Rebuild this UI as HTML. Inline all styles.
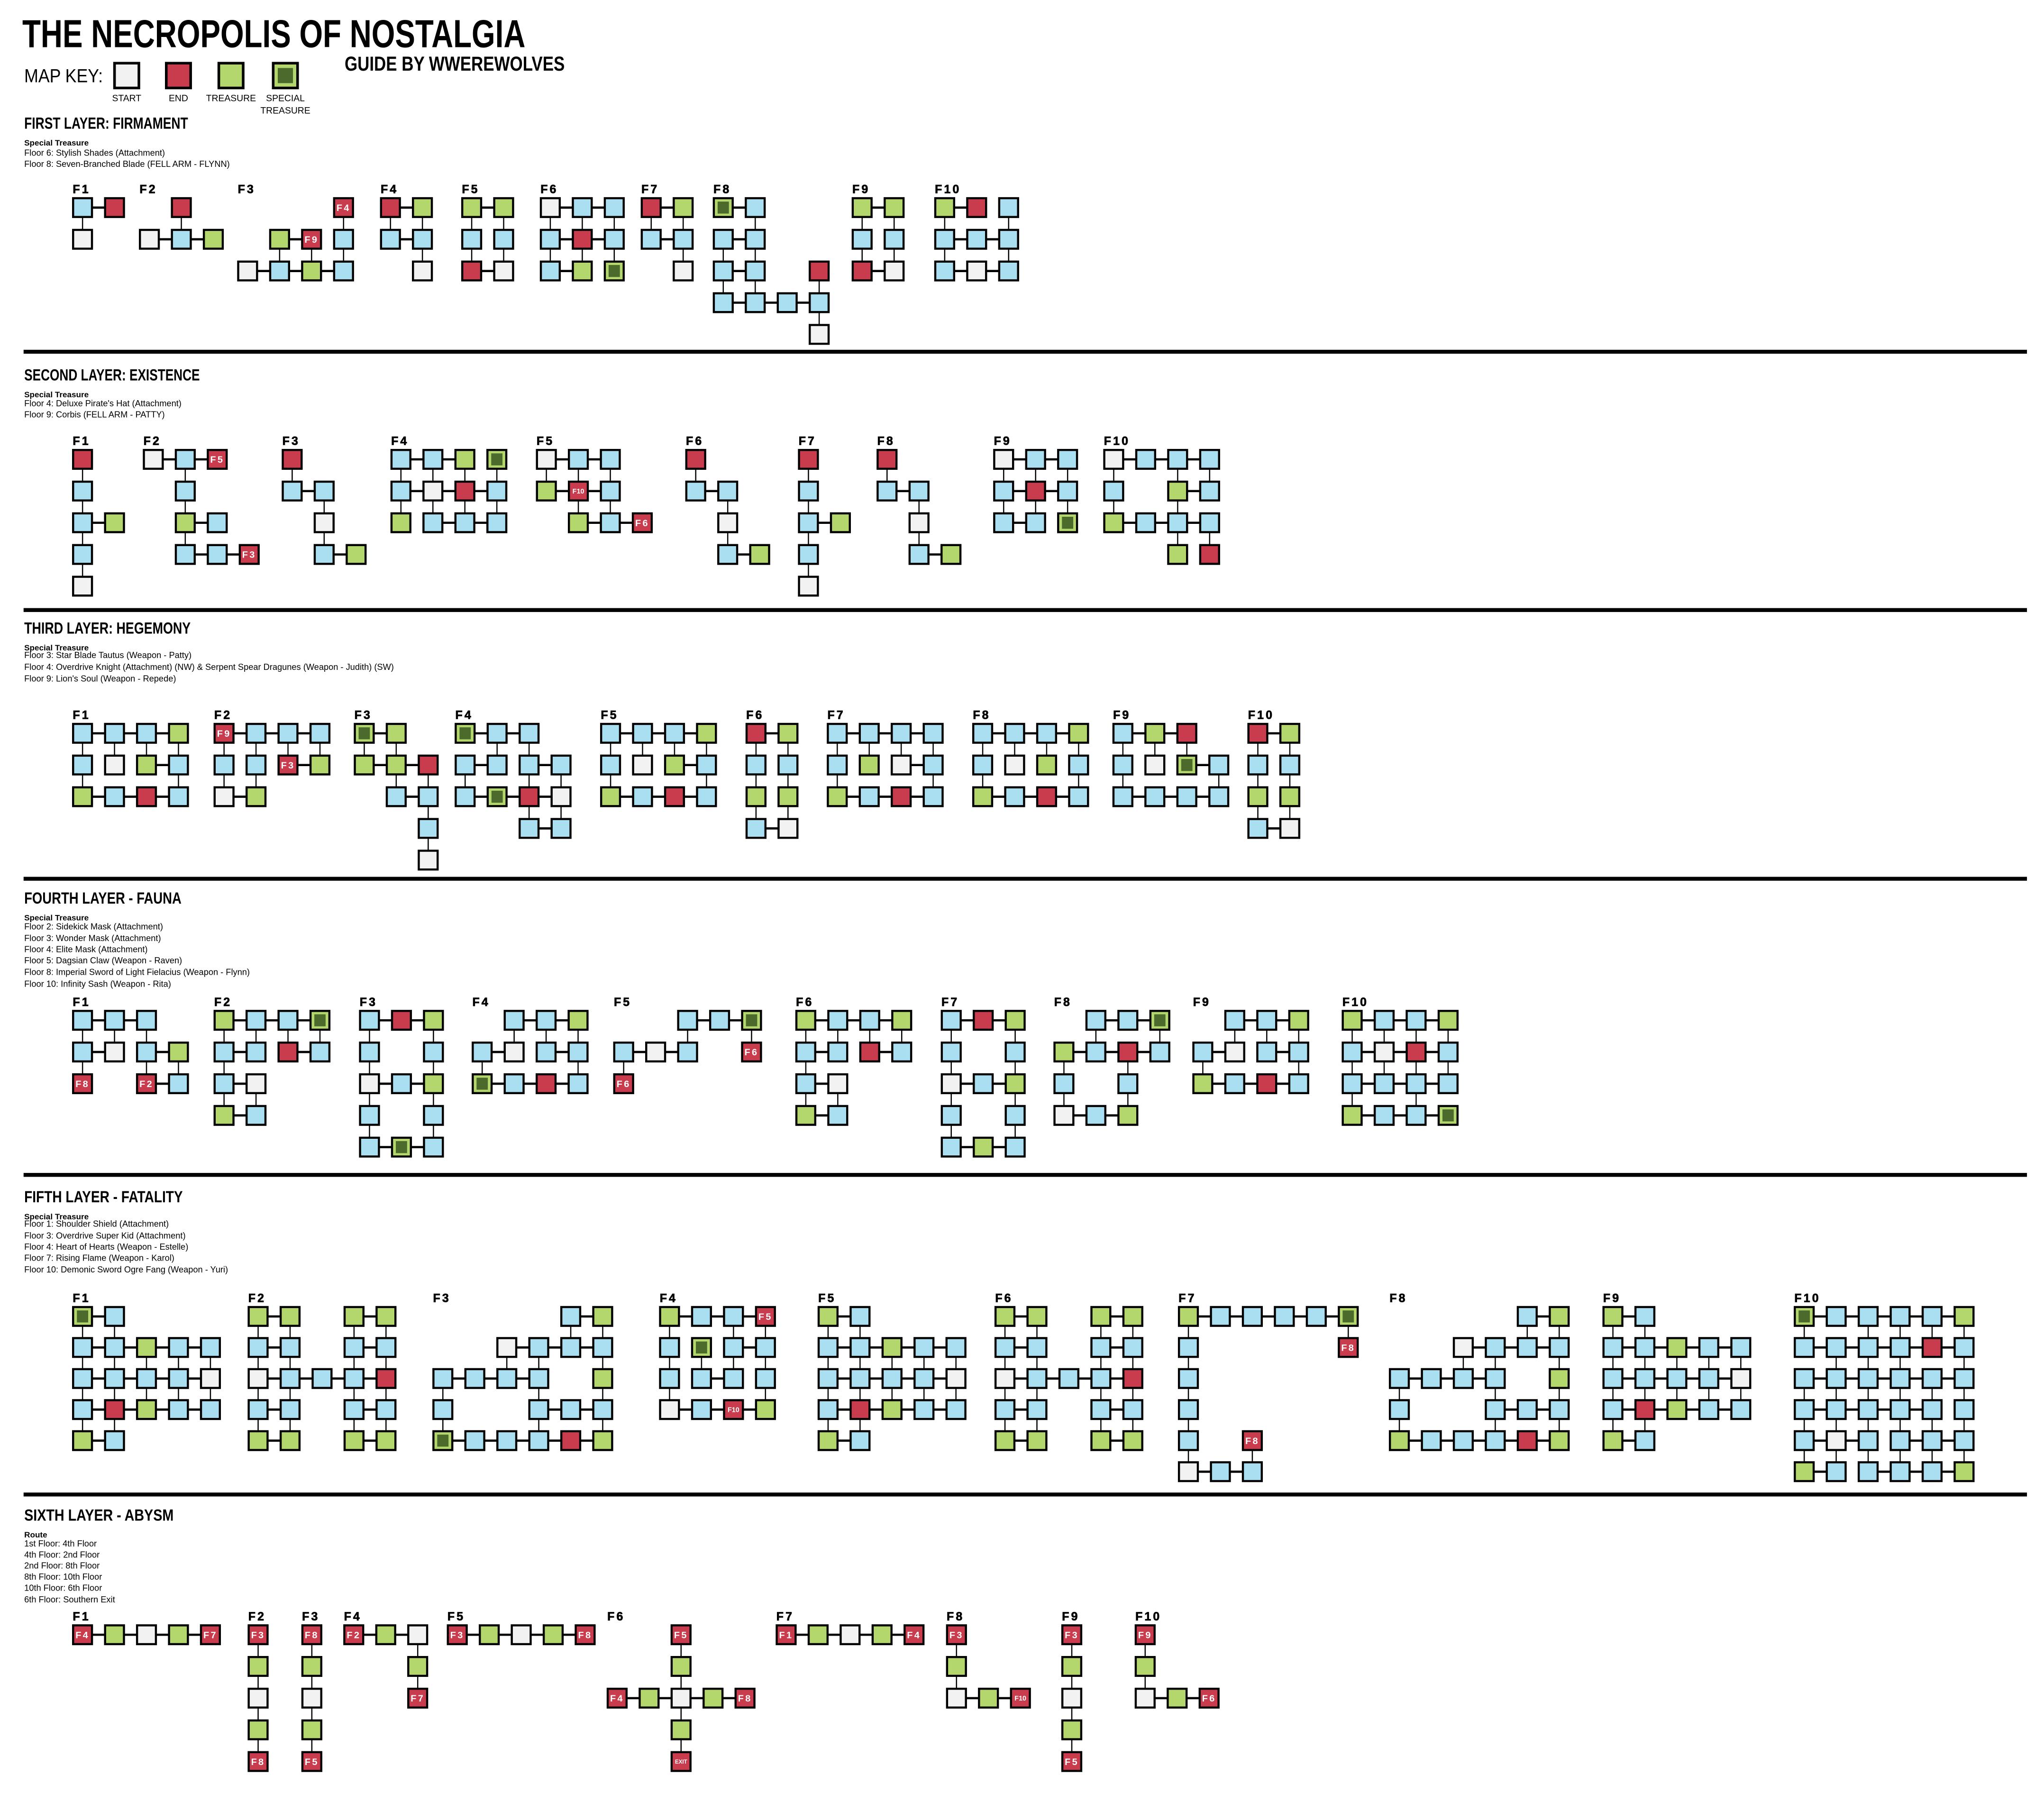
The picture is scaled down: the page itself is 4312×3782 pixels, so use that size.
<!DOCTYPE html>
<html><head><meta charset="utf-8">
<style>
html,body{margin:0;padding:0;background:#fff;}
svg{display:block;}
text{font-family:"Liberation Sans Narrow","Liberation Sans",sans-serif;}
</style></head>
<body>
<svg id="s" xmlns="http://www.w3.org/2000/svg" width="4312" height="3782" viewBox="0 0 1560 1368">
<rect x="0" y="0" width="1560" height="1368" fill="#fff"/>
<g transform="scale(1,0.9955)">
<g font-weight="bold" fill="#000">
<text x="17" y="36" font-size="30" textLength="384" lengthAdjust="spacingAndGlyphs">THE NECROPOLIS OF NOSTALGIA</text>
<text x="263" y="54" font-size="15.5" textLength="168" lengthAdjust="spacingAndGlyphs">GUIDE BY WWEREWOLVES</text>
</g>
<text x="18.5" y="63" font-size="14.5" textLength="60" lengthAdjust="spacingAndGlyphs">MAP KEY:</text>
<g stroke="#000" stroke-width="2">
<rect x="87.4" y="48.3" width="18.6" height="19" fill="#f2f2f2"/>
<rect x="126.9" y="48.3" width="18.6" height="19" fill="#c93c4e"/>
<rect x="167" y="48.3" width="18.6" height="19" fill="#b3d66d"/>
<rect x="208.5" y="48.3" width="18.6" height="19" fill="#b3d66d"/>
</g>
<rect x="212" y="52" width="11.6" height="11.6" fill="#4b6a2b"/>
<g font-size="7" text-anchor="middle">
<text x="96.7" y="77.5">START</text>
<text x="136.2" y="77.5">END</text>
<text x="176.3" y="77.5">TREASURE</text>
<text x="217.8" y="77.5">SPECIAL</text>
<text x="217.8" y="87">TREASURE</text>
</g>
<g id="g"></g>
</g>
</svg>
<script>
var g=document.getElementById('g');var NS='http://www.w3.org/2000/svg';
function el(t,a,txt){var e=document.createElementNS(NS,t);for(var k in a)e.setAttribute(k,a[k]);if(txt!==undefined)e.textContent=txt;g.appendChild(e);return e;}
var COL={B:'#a9dff0',R:'#c93c4e',G:'#b3d66d',S:'#f2f2f2',D:'#b3d66d'};
var PX=24.4,H=7.2;
function floor(name,x0,y0,rows,py){
  py=py||24.3;
  el('text',{x:x0-7.5,y:y0-11,'font-size':9,'font-weight':'bold','letter-spacing':'1.5',stroke:'#000','stroke-width':0.3},name);
  var cells=[];
  for(var r=0;r<rows.length;r++){
    var t=rows[r].trim().split(/\s+/);var ry=Math.floor(r/2);
    if(r%2==0){
      for(var i=0;i<t.length;i++){
        var c=Math.floor(i/2);var cx=x0+c*PX,cy=y0+ry*py;
        if(i%2==0){if(t[i]!='.')cells.push([t[i],cx,cy]);}
        else if(t[i]=='-'){el('line',{x1:cx,y1:cy,x2:cx+PX,y2:cy,stroke:'#000','stroke-width':1.7});}
      }
    }else{
      for(var i=0;i<t.length;i++){
        if(t[i]=='|'){var cx=x0+i*PX,cy=y0+ry*py;el('line',{x1:cx,y1:cy,x2:cx,y2:cy+py,stroke:'#000','stroke-width':0.9});}
      }
    }
  }
  cells.forEach(function(c){
    var k=c[0].charAt(0),lab=c[0].split(':')[1];
    el('rect',{x:c[1]-H,y:c[2]-H,width:2*H,height:2*H,fill:COL[k],stroke:'#000','stroke-width':1.6});
    if(k=='D')el('rect',{x:c[1]-4.3,y:c[2]-4.6,width:8.6,height:9.2,fill:'#4b6a2b'});
    if(lab){var fs=lab.length>3?4.2:(lab.length>2?5.2:7.2);
      el('text',{x:c[1],y:c[2]+fs*0.36,'font-size':fs,'font-weight':'bold',fill:'#fff','text-anchor':'middle','letter-spacing':lab.length>2?0:1.2},lab);}
  });
}
function head(title,tw,ty,sub,lines){
  el('text',{x:18.5,y:ty+4.5,'font-size':12.5,'font-weight':'bold',textLength:tw,lengthAdjust:'spacingAndGlyphs'},title);
  el('text',{x:18.5,y:ty+17.5,'font-size':6.2,'font-weight':'bold'},sub);
  lines.forEach(function(l){el('text',{x:18.5,y:l[0]+2.3,'font-size':6.6},l[1]);});
}
function sep(y){el('rect',{x:18,y:y-1.5,width:1529,height:3,fill:'#000'});}
// LAYER 1
head('FIRST LAYER: FIRMAMENT',125,94,'Special Treasure',[[117,'Floor 6: Stylish Shades (Attachment)'],[125.5,'Floor 8: Seven-Branched Blade (FELL ARM - FLYNN)']]);
var y=159;
floor('F1',63,y,["B - R","| .","S"]);
floor('F2',114,y,[". . R",". |","S - B - G"]);
floor('F3',189,y,[". . . . . . R:F4",". . . |",". . G - R:F9 . B",". | | |","S - B - G - B"]);
floor('F4',298,y,["R - G","| |","B - B",". |",". . S"]);
floor('F5',360,y,["G - G","| |","B . B","| |","R - S"]);
floor('F6',420,y,["S - B - B","| | |","B - R - B","| | |","B - G . D"]);
floor('F7',497,y,["R - G","| |","B - B",". |",". . S"]);
floor('F8',552,y,["D - B",". |","B - B","| |","B - B . . . R","| | . |","B - B - B - B",". . . |",". . . . . . S"]);
floor('F9',658,y,["G - G","| |","B . B","| |","R - S"]);
floor('F10',721,y,["G - R . B","| . |","B - B - B","| . |","B - S - B"]);
sep(269.5);
// LAYER 2
head('SECOND LAYER: EXISTENCE',134,287,'Special Treasure',[[309,"Floor 4: Deluxe Pirate's Hat (Attachment)"],[317.5,'Floor 9: Corbis (FELL ARM - PATTY)']]);
y=352;
var L2a=["R","|","B","|","B - G","|","B","|","S"];
floor('F1',63,y,L2a);
floor('F2',117,y,["S - B - R:F5",". |",". . B",". |",". . G - B",". |",". . B - B - R:F3"]);
floor('F3',223,y,["R","|","B - B",". |",". . S",". |",". . B - G"]);
floor('F4',306,y,["B - B - G . D","| | | |","B - S - R - B","| | | |","G . B - B - B"]);
floor('F5',417,y,["S - B - B","| | |","G - R:F10 - B",". | |",". . G - B - R:F6"]);
floor('F6',531,y,["R","|","B - B",". |",". . S",". |",". . B - G"]);
floor('F7',617,y,L2a);
floor('F8',677,y,["R","|","B - B",". |",". . S",". |",". . B - G"]);
floor('F9',766,y,["S - B - B","| | |","B - R - B","| | |","B - B . D"]);
floor('F10',850,y,["S - B - B - B","| . | |","B . . . G - B","| . | .","G - B - B - B",". . | |",". . . . G . R"]);
sep(467.5);
// LAYER 3
head('THIRD LAYER: HEGEMONY',127,481,'Special Treasure',[[502,'Floor 3: Star Blade Tautus (Weapon - Patty)'],[511,'Floor 4: Overdrive Knight (Attachment) (NW) & Serpent Spear Dragunes (Weapon - Judith) (SW)'],[520,"Floor 9: Lion's Soul (Weapon - Repede)"]]);
y=562;
floor('F1',63,y,["B - B - B - G","| | | |","B . S . G - B","| . . |","G - B - R - B"]);
floor('F2',171,y,["R:F9 - B - B - B","| | | |","B . B . R:F3 - G","| |","S - G"]);
floor('F3',278,y,["D - G","| |","G - G - R",". | |",". . B - B",". . |",". . . . B",". . |",". . . . S"]);
floor('F4',355,y,["D - B - B",". | |","B - B . B - B","| . | |","B - D - R - S",". . | |",". . . . B - B"]);
floor('F5',466,y,["B - B - B - G","| | | |","B . S . G - B","| . . |","G - B - R - B"]);
floor('F6',577,y,["R - G","| |","B . B","| |","G . G","| |","B - S"]);
floor('F7',639,y,["B - B - B - B","| | | |","B . G . S - B","| . . |","G - B - R - B"]);
floor('F8',750,y,["B - B - B - G","| | | |","B . S . G . B","| . . |","G - B - R - B"]);
floor('F9',857,y,["B - G - R","| | |","B . S . D - B","| . . |","B - B - B - B"]);
floor('F10',960,y,["R - G","| |","B . B","| |","G . G","| |","B - S"]);
sep(673.5);
// LAYER 4
head('FOURTH LAYER - FAUNA',120,688,'Special Treasure',[[710,'Floor 2: Sidekick Mask (Attachment)'],[719,'Floor 3: Wonder Mask (Attachment)'],[727.5,'Floor 4: Elite Mask (Attachment)'],[736,'Floor 5: Dagsian Claw (Weapon - Raven)'],[745,'Floor 8: Imperial Sword of Light Fielacius (Weapon - Flynn)'],[754,'Floor 10: Infinity Sash (Weapon - Rita)']]);
y=782;
floor('F1',63,y,["B - B - B","| | |","B - S . B - G","| . | |","R:F8 . . . R:F2 - B"]);
var L4b=["G - B - B - D","| | | |","B - B . R - B","|","B - S","| |","G - B"];
floor('F2',171,y,L4b);
floor('F3',282,y,["B - R - G","| . |","B . . . B","| . |","S - B - G","| . |","B . . . B","| . |","B - D - B"]);
floor('F4',368,y,[". . B - B - G",". | | |","B - S . B - B","| . . |","D - B - R - B"]);
floor('F5',476,y,[". . . . B - B - D",". . | . |","B - S - B . . . R:F6","|","R:F6"]);
floor('F6',615,y,["G - B - B - G","| | | |","B - B . R - B","|","B - S","| |","G - B"]);
floor('F7',726,y,["B - R - G","| . |","B . . . B","| . |","S - B - G","| . |","B . . . B","| . |","B - G - B"]);
floor('F8',812,y,[". . B - B - D",". | . |","G - B - R - B","| . | .","B . . . B","| . |","S - B - G"]);
floor('F9',918,y,[". . B - B - G",". | | |","B - S . B - B","| . . |","G - B - R - B"]);
floor('F10',1032,y,["G - B - B - G","| | | |","B - S - R - B","| | | |","B - B - B - B","| . | .","G - B - B - D"]);
sep(900.5);
// LAYER 5
head('FIFTH LAYER - FATALITY',121,917,'Special Treasure',[[938,'Floor 1: Shoulder Shield (Attachment)'],[947,'Floor 3: Overdrive Super Kid (Attachment)'],[955.5,'Floor 4: Heart of Hearts (Weapon - Estelle)'],[964,'Floor 7: Rising Flame (Weapon - Karol)'],[973,'Floor 10: Demonic Sword Ogre Fang (Weapon - Yuri)']]);
y=1009;var P5=23.8;
var L5a=["B - B - G - B - B","| | | | |","B - B - B - B - S","| | | | |","B - R - G - B - B","| |","G - B"];
floor('F1',63,y,["D - B","| |"].concat(L5a),P5);
var L5b=["G - G . . . G - G","| | . | |","B - B . . . B - B","| | . | |","S - B - B - B - R","| | . | |","B - B . . . B - B","| | . | |","G - G . . . G - G"];
floor('F2',197,y,L5b,P5);
var L5c=[". . . . . . . . B - G",". . . . | |",". . . . S - B - B - B",". . | | . |","B - B - B - B . . . G","| . . | . |","B . . . . . B - B - B","| . . | . |"];
floor('F3',338,y,L5c.concat(["D - B - B - B - R - G"]),P5);
floor('F4',511,y,["G - B - B - R:F5","| . | |","B . D . B - B","| | | |","B . B - B . B","| . . |","S - B - R:F10 - G"],P5);
floor('F5',632,y,["G - B","| |"].concat(L5a),P5);
floor('F6',767,y,L5b,P5);
floor('F7',907,y,["G - B - B - B - B - D","| . . . . |","B . . . . . . . . . R:F8","|","B","|","B","|","B . . . R:F8","| . |","S - B - B"],P5);
floor('F8',1068,y,L5c.concat(["G - B - B - B - R - G"]),P5);
floor('F9',1231,y,["G - B","| |"].concat(L5a),P5);
floor('F10',1377,y,["D - B - B - B - B - G","| . | | | |","B - B - B - B - R - B",". | | | . |","B - B - B - B - B - B","| | | | | |","B - B - B - B - B . B","| | | | | |","B - S - B . B - B - B","| | | | | |","G - B . B - B - B - G"],P5);
sep(1145.5);
// LAYER 6
head('SIXTH LAYER - ABYSM',114,1161,'Route',[[1183,'1st Floor: 4th Floor'],[1191.5,'4th Floor: 2nd Floor'],[1200,'2nd Floor: 8th Floor'],[1208.5,'8th Floor: 10th Floor'],[1217,'10th Floor: 6th Floor'],[1226,'6th Floor: Southern Exit']]);
y=1253;
floor('F1',63,y,["R:F4 - G - S - G - R:F7"]);
floor('F2',197,y,["R:F3","|","G","|","S","|","G","|","R:F8"]);
floor('F3',238,y,["R:F8","|","G","|","S","|","G","|","R:F5"]);
floor('F4',270,y,["R:F2 - G - S",". . |",". . . . G",". . |",". . . . R:F7"]);
floor('F5',349,y,["R:F3 - G - S - G - R:F8"]);
floor('F6',471,y,[". . . . R:F5",". . |",". . . . G",". . |","R:F4 - G - S - G - R:F8",". . |",". . . . G",". . |",". . . . R:EXIT"]);
floor('F7',600,y,["R:F1 - G - S - G - R:F4"]);
floor('F8',730,y,["R:F3","|","G","|","S - G - R:F10"]);
floor('F9',818,y,["R:F3","|","G","|","S","|","G","|","R:F5"]);
floor('F10',874,y,["R:F9","|","G","|","S - G - R:F6"]);
</script>
</body></html>
